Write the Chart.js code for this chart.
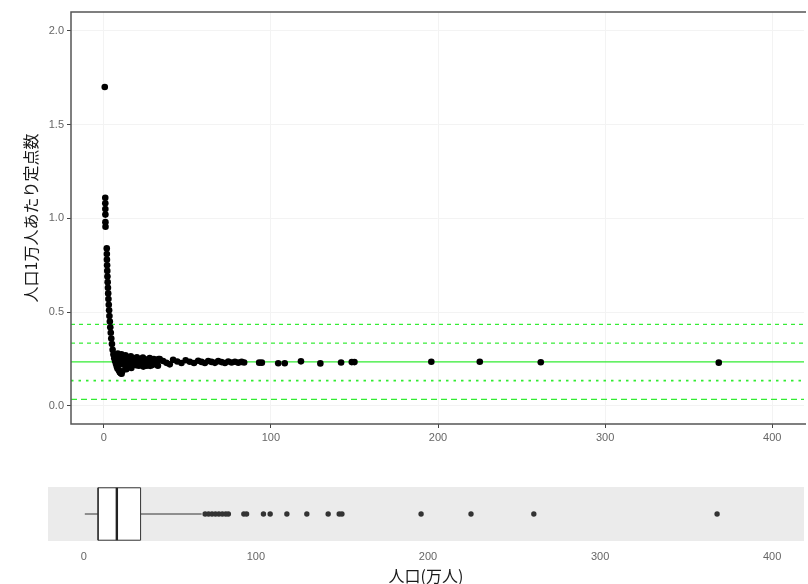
<!DOCTYPE html>
<html lang="ja">
<head>
<meta charset="UTF-8">
<title>人口1万人あたり定点数</title>
<script src="https://cdn.jsdelivr.net/npm/chart.js"></script>
<style>
  body { margin: 0; background: #fff; width: 808px; height: 584px; overflow: hidden; position: relative; }
  #main { position: absolute; left: 0; top: 0; }
  #box { position: absolute; left: 0; top: 450px; }
</style>
</head>
<body>
<canvas id="main" width="808" height="450"></canvas>
<canvas id="box" width="808" height="134"></canvas>
<script>
// 人口（万人）
const pop = [
  0.6, 0.9, 0.92, 0.95, 0.98, 1.0, 1.05, 1.8, 1.85, 1.9, 2.0, 2.1, 2.2, 2.35, 2.5, 2.65,
  2.8, 3.0, 3.2, 3.4, 3.65, 3.9, 4.2, 4.5, 4.9, 5.3, 5.8, 6.3, 6.8, 7.3, 7.8, 8.2,
  8.4, 8.9, 9.3, 9.7, 10.1, 9.0, 9.6, 10.2, 10.7, 11.1, 10.6, 11.1, 11.6, 12.1, 12.6, 13.1,
  13.5, 13.0, 13.6, 14.2, 14.8, 15.4, 16.0, 16.5, 16.2, 16.9, 17.6, 18.3, 18.9, 19.4,
  19.8, 20.6, 21.4, 22.2, 23.0, 23.7, 23.4, 24.3, 25.2, 26.1, 27.0, 27.8, 27.5, 28.5, 29.5,
  30.5, 31.5, 32.4, 20.2, 21.0, 22.8, 24.8, 26.5, 28.0, 29.0, 30.0, 31.0, 32.0, 32.8, 25.7,
  33.5, 35.5, 37.5, 39.5, 41.5, 44.0, 46.5, 49.0, 51.5, 54.0, 56.5, 58.5, 60.5, 62.5, 64.5,
  66.5, 68.5, 70.5, 72.5, 74.5, 76.5, 78.5, 80.5, 82.5, 84.0,
  93.0, 94.6, 104.4, 108.3, 118.0, 129.6, 142.0, 148.4, 150.0, 196.0, 225.0, 261.5, 368.0
];
// 人口1万人あたり定点数
const rate = [
  1.70, 1.11, 1.08, 1.05, 1.02, 0.98, 0.955, 0.84, 0.81, 0.78, 0.75, 0.72, 0.69, 0.66, 0.63, 0.60,
  0.57, 0.54, 0.51, 0.48, 0.45, 0.42, 0.39, 0.36, 0.33, 0.30, 0.275, 0.255, 0.24, 0.225, 0.21, 0.20,
  0.28, 0.265, 0.25, 0.235, 0.222, 0.19, 0.18, 0.174, 0.172, 0.185, 0.275, 0.262, 0.248, 0.234, 0.22, 0.207,
  0.196, 0.27, 0.26, 0.248, 0.236, 0.224, 0.212, 0.203, 0.265, 0.255, 0.245, 0.235, 0.226, 0.217,
  0.26, 0.25, 0.24, 0.23, 0.22, 0.21, 0.258, 0.25, 0.24, 0.23, 0.222, 0.214, 0.255, 0.247, 0.238,
  0.23, 0.222, 0.215, 0.23, 0.215, 0.245, 0.222, 0.248, 0.228, 0.218, 0.25, 0.244, 0.238, 0.25, 0.215,
  0.25, 0.24, 0.23, 0.222, 0.246, 0.237, 0.229, 0.244, 0.236, 0.229, 0.241, 0.235, 0.229, 0.24, 0.235,
  0.23, 0.239, 0.234, 0.229, 0.237, 0.232, 0.236, 0.231, 0.235, 0.232,
  0.231, 0.231, 0.228, 0.228, 0.238, 0.227, 0.232, 0.234, 0.234, 0.236, 0.236, 0.233, 0.231
];

// 平均と ±0.1, ±0.2 の基準線
const refLevels = [0.435, 0.335, 0.235, 0.135, 0.035];
const refDash = [[4, 4], [4, 4], [], [2.5, 5], [6, 4]];

// 箱ひげ図の統計量（万人）
const whiskerLow = 0.6;
const q1 = 8.3;
const median = 19.2;
const q3 = 33.0;
const whiskerHigh = 68.5;

const xTicks = [0, 100, 200, 300, 400];
const yTicks = [0, 0.5, 1.0, 1.5, 2.0];

const tickFont = { family: "'Liberation Sans', Arial, sans-serif", size: 11 };
const titleFont = { family: "'Noto Sans CJK JP', sans-serif", size: 16, lineHeight: 1.2 };

// パネルの枠線
const panelBorder = {
  id: 'panelBorder',
  afterDraw(chart) {
    const { ctx, chartArea: a } = chart;
    ctx.save();
    ctx.strokeStyle = '#555';
    ctx.lineWidth = 1.5;
    ctx.beginPath();
    ctx.moveTo(a.right + 2, a.bottom);
    ctx.lineTo(a.left, a.bottom);
    ctx.lineTo(a.left, a.top);
    ctx.lineTo(a.right + 2, a.top);
    ctx.stroke();
    ctx.restore();
  }
};

// 下段パネルの灰色背景
const panelBg = {
  id: 'panelBg',
  beforeDraw(chart) {
    const { ctx, chartArea: a } = chart;
    ctx.save();
    ctx.fillStyle = '#ebebeb';
    ctx.fillRect(a.left, a.top, a.right - a.left, a.bottom - a.top);
    ctx.restore();
  }
};

const xMin = -19.6, xMax = 419;

const refSets = refLevels.map((v, i) => ({
  type: 'line',
  data: [{ x: xMin, y: v }, { x: xMax, y: v }],
  borderColor: 'rgb(50, 235, 50)',
  borderWidth: i === 2 ? 1.4 : (i === 3 ? 1.8 : 1.2),
  borderDash: refDash[i],
  pointRadius: 0
}));

new Chart(document.getElementById('main'), {
  type: 'scatter',
  data: {
    datasets: [{
      data: pop.map((p, i) => ({ x: p, y: rate[i] })),
      backgroundColor: '#000',
      borderWidth: 0,
      pointRadius: 3.3
    }, ...refSets]
  },
  options: {
    responsive: false,
    animation: false,
    layout: { padding: { top: 12, left: 0, right: 0, bottom: 0 } },
    plugins: { legend: { display: false }, tooltip: { enabled: false } },
    scales: {
      x: {
        type: 'linear', min: xMin, max: xMax,
        afterBuildTicks: s => { s.ticks = xTicks.map(v => ({ value: v })); },
        afterFit: s => { s.height = 26; },
        border: { display: false },
        grid: { color: '#f3f3f3', tickColor: '#444', tickLength: 4 },
        ticks: { color: '#666', font: tickFont, padding: 3, maxRotation: 0 }
      },
      y: {
        min: -0.096, max: 2.10,
        afterBuildTicks: s => { s.ticks = yTicks.map(v => ({ value: v })); },
        afterFit: s => { s.width = 71; },
        border: { display: false },
        grid: { color: '#f3f3f3', tickColor: '#444', tickLength: 4 },
        ticks: { color: '#666', font: tickFont, padding: 3, callback: v => v.toFixed(1) },
        title: { display: true, text: '人口1万人あたり定点数', color: '#1a1a1a', font: titleFont, padding: { top: 21, bottom: 0 } }
      }
    }
  },
  plugins: [panelBorder]
});

// 下段：人口の箱ひげ図
const seg = (pts, extra) => Object.assign({ type: 'line', data: pts, pointRadius: 0, borderColor: '#333', borderWidth: 1 }, extra);

new Chart(document.getElementById('box'), {
  type: 'line',
  data: {
    datasets: [
      { type: 'line', showLine: false, data: pop.filter(p => p > whiskerHigh).map(p => ({ x: p, y: 0 })),
        pointRadius: 2.7, backgroundColor: '#333', borderWidth: 0 },
      seg([{ x: median, y: -1 }, { x: median, y: 1 }], { borderColor: '#222', borderWidth: 2.4 }),
      seg([{ x: q1, y: -1 }, { x: q3, y: -1 }, { x: q3, y: 1 }, { x: q1, y: 1 }, { x: q1, y: -1 }], {}),
      seg([{ x: q1, y: 1 }, { x: q3, y: 1 }], { borderWidth: 0, fill: '+1', backgroundColor: '#fff' }),
      seg([{ x: q1, y: -1 }, { x: q3, y: -1 }], { borderWidth: 0 }),
      seg([{ x: whiskerLow, y: 0 }, { x: q1, y: 0 }], {}),
      seg([{ x: q3, y: 0 }, { x: whiskerHigh, y: 0 }], {})
    ]
  },
  options: {
    responsive: false,
    animation: false,
    layout: { padding: { top: 37, left: 48, right: 0, bottom: 0 } },
    plugins: { legend: { display: false }, tooltip: { enabled: false } },
    scales: {
      x: {
        type: 'linear', min: -20.8, max: 418.5,
        afterBuildTicks: s => { s.ticks = xTicks.map(v => ({ value: v })); },
        afterFit: s => { s.height = 43; },
        border: { display: false },
        grid: { display: false, drawTicks: false },
        ticks: { color: '#666', font: tickFont, padding: 9, maxRotation: 0 },
        title: { display: true, text: '人口(万人)', color: '#1a1a1a', font: { family: "'Noto Sans CJK JP', sans-serif", size: 16, lineHeight: 1.05 }, padding: { top: 0, bottom: 0 } }
      },
      y: { display: false, min: -1.03, max: 1.03 }
    }
  },
  plugins: [panelBg]
});
</script>
</body>
</html>
